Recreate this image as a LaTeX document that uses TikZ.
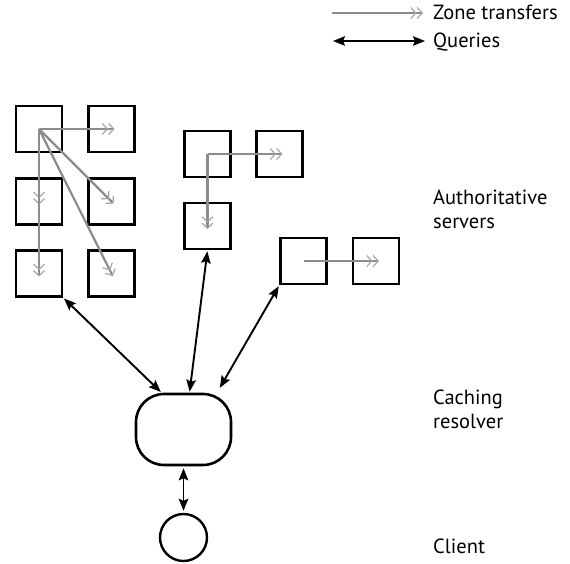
\documentclass[tikz,border=0pt]{standalone}
\usepackage{fontspec}
\setmainfont{PT Sans}
\usetikzlibrary{arrows.meta,calc}
\begin{document}
\begin{tikzpicture}[x=1pt,y=-1pt,
  srv/.style={draw=black,line width=2.6pt,minimum size=46pt,inner sep=0pt},
  zt/.style={draw=black!45,line width=2.2pt,
     -{Straight Barb[length=5pt,width=11pt,line width=1.2pt,color=black!35] Straight Barb[length=5pt,width=11pt,line width=1.2pt,color=black!35]},shorten >=-3pt},
  qry/.style={draw=black,line width=1.9pt,{Stealth[length=12pt,width=9.5pt,inset=2pt]}-{Stealth[length=12pt,width=9.5pt,inset=2pt]}},
  lbl/.style={anchor=base west,font=\fontsize{20.5}{24}\selectfont,inner sep=0pt,align=left}]
\useasboundingbox (0,0) rectangle (570,563);
% servers group 1
\node[srv] (a1) at (39,129) {};
\node[srv] (a2) at (111.5,129) {};
\node[srv] (a3) at (39,201.5) {};
\node[srv] (a4) at (111.5,201.5) {};
\node[srv] (a5) at (39,273.5) {};
\node[srv] (a6) at (111.5,273.5) {};
% group 2
\node[srv] (b1) at (207.5,154) {};
\node[srv] (b2) at (279.5,154) {};
\node[srv] (b3) at (207.5,226) {};
% group 3
\node[srv] (c1) at (303.5,261) {};
\node[srv] (c2) at (376,261) {};
% resolver and client
\node[draw,line width=2.6pt,minimum width=95pt,minimum height=71pt,rounded corners=28pt,inner sep=0pt] (res) at (183.5,429.5) {};
\node[draw,line width=2.4pt,circle,minimum size=47pt,inner sep=0pt] (cli) at (183.5,537.5) {};
% zone transfers
\draw[zt] (a1.center) -- (a2.center);
\draw[zt] (a1.center) -- (a3.center);
\draw[zt] (a1.center) -- (a5.center);
\draw[zt] (a1.center) -- (a4.center);
\draw[zt] (a1.center) -- (a6.center);
\draw[zt] (b1.center) -- (b2.center);
\draw[zt] (b1.center) -- (b3.center);
\draw[zt] (c1.center) -- (c2.center);
% queries
\draw[qry,shorten <=1pt,shorten >=1pt] (a5.south east) -- ([xshift=-22pt]res.north);
\draw[qry,shorten <=1pt,shorten >=1pt] (b3.south) -- ([xshift=6pt]res.north);
\draw[qry,shorten <=1pt,shorten >=1pt] (c1.south west) -- ([xshift=-13pt,yshift=4pt]res.north east);
\draw[qry,shorten <=2pt,shorten >=2pt] (res.south) -- (cli.north);
% legend
\coordinate (lz1) at (332,13);
\coordinate (lz2) at (423,13);
\coordinate (lq1) at (333,41);
\coordinate (lq2) at (425,41);
\draw[zt,shorten >=0pt] (lz1) -- (lz2);
\draw[qry] (lq1) -- (lq2);
\node[lbl] (tz) at (433,19) {Zone transfers};
\node[lbl] (tq) at (433,47) {Queries};
\node[lbl] (ta) at (433,228) {Authoritative\\servers};
\node[lbl] (tc) at (433,428) {Caching\\resolver};
\node[lbl] (tcl) at (433,553) {Client};
\end{tikzpicture}
\end{document}
